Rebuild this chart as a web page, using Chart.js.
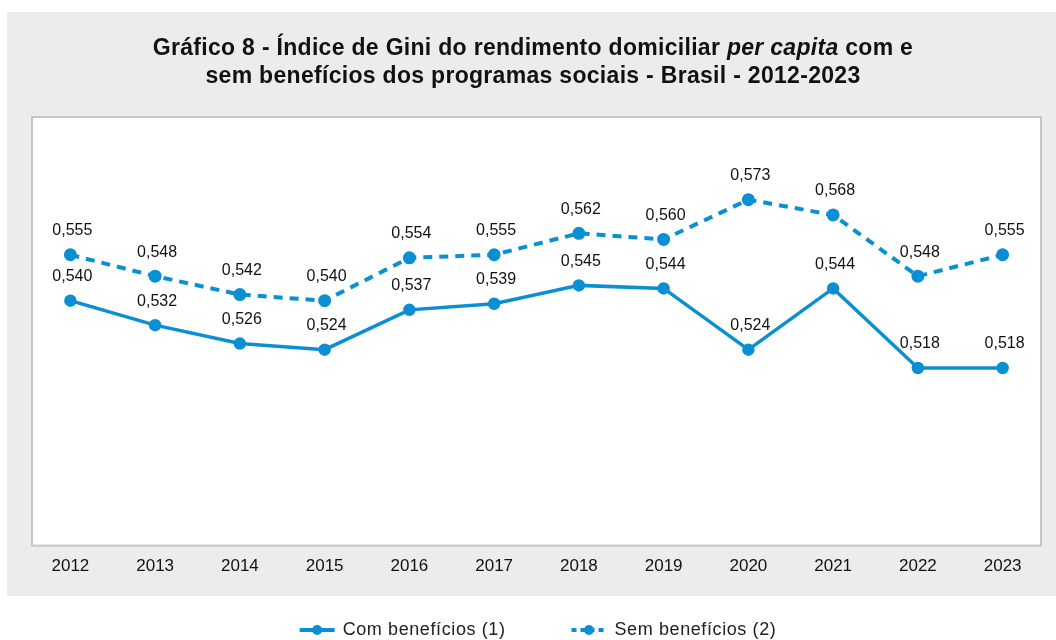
<!DOCTYPE html>
<html>
<head>
<meta charset="utf-8">
<script src="https://cdn.jsdelivr.net/npm/chart.js@4.4.1/dist/chart.umd.min.js"></script>
<style>
  html, body { margin: 0; padding: 0; background: #fff; }
  #wrap { width: 1056px; height: 640px; position: relative; }
</style>
</head>
<body>
<div id="wrap"><canvas id="chart1" width="1056" height="640"></canvas></div>
<script>
var years = ['2012', '2013', '2014', '2015', '2016', '2017', '2018', '2019', '2020', '2021', '2022', '2023'];
var comBeneficios = [0.540, 0.532, 0.526, 0.524, 0.537, 0.539, 0.545, 0.544, 0.524, 0.544, 0.518, 0.518];
var semBeneficios = [0.555, 0.548, 0.542, 0.540, 0.554, 0.555, 0.562, 0.560, 0.573, 0.568, 0.548, 0.555];
var seriesNames = ['Com benefícios (1)', 'Sem benefícios (2)'];
var titleLines = [
    [['Gráfico 8 - Índice de Gini do rendimento domiciliar ', 'bold'], ['per capita', 'italic bold'], [' com e', 'bold']],
    [['sem benefícios dos programas sociais - Brasil - 2012-2023', 'bold']]
];

var blue = '#0a8fd3';
var fontFamily = '"Liberation Sans", Arial, Helvetica, sans-serif';

var panelPlugin = {
    id: 'panel',
    beforeDraw: function (chart) {
        var ctx = chart.ctx;
        var a = chart.chartArea;
        ctx.save();
        ctx.fillStyle = '#ececec';
        ctx.fillRect(7, 12, 1049, 584);
        ctx.fillStyle = '#ffffff';
        ctx.fillRect(a.left + 4, a.top, a.right - a.left - 8, a.bottom - a.top);
        ctx.strokeStyle = '#c6c6c6';
        ctx.lineWidth = 2;
        ctx.strokeRect(a.left + 4, a.top, a.right - a.left - 8, a.bottom - a.top);
        ctx.restore();
    }
};

var titlePlugin = {
    id: 'mixedTitle',
    afterDraw: function (chart) {
        var ctx = chart.ctx;
        ctx.save();
        ctx.fillStyle = '#111';
        ctx.textBaseline = 'middle';
        ctx.letterSpacing = '0.3px';
        var ys = [49, 77];
        titleLines.forEach(function (parts, i) {
            var total = 0;
            parts.forEach(function (p) {
                ctx.font = p[1] + ' 23px ' + fontFamily;
                total += ctx.measureText(p[0]).width;
            });
            var x = 533 - total / 2;
            parts.forEach(function (p) {
                ctx.font = p[1] + ' 23px ' + fontFamily;
                ctx.fillText(p[0], x, ys[i]);
                x += ctx.measureText(p[0]).width;
            });
        });
        ctx.restore();
    }
};

var valueLabels = {
    id: 'valueLabels',
    afterDatasetsDraw: function (chart) {
        var ctx = chart.ctx;
        ctx.save();
        ctx.font = '16px ' + fontFamily;
        ctx.fillStyle = '#111';
        ctx.textAlign = 'center';
        ctx.textBaseline = 'middle';
        chart.data.datasets.forEach(function (ds, i) {
            chart.getDatasetMeta(i).data.forEach(function (pt, j) {
                ctx.fillText(ds.data[j].toFixed(3).replace('.', ','), pt.x + 2, pt.y - 24);
            });
        });
        ctx.restore();
    }
};

// legend below the grey panel: line + dot icon, then the series name
var lineLegend = {
    id: 'lineLegend',
    afterDraw: function (chart) {
        var ctx = chart.ctx;
        var y = 630;
        var iconW = 35, textGap = 8, itemGap = 66;
        ctx.save();
        ctx.font = '18px ' + fontFamily;
        ctx.letterSpacing = '0.6px';
        var widths = chart.data.datasets.map(function (ds) { return ctx.measureText(ds.label).width; });
        var total = iconW * 2 + textGap * 2 + widths[0] + widths[1] + itemGap;
        var x = 538 - total / 2;
        chart.data.datasets.forEach(function (ds, i) {
            ctx.strokeStyle = ds.borderColor;
            ctx.fillStyle = ds.borderColor;
            ctx.lineWidth = 4;
            ctx.setLineDash(ds.borderDash ? [5, 4] : []);
            ctx.beginPath();
            ctx.moveTo(x, y);
            ctx.lineTo(x + iconW, y);
            ctx.stroke();
            ctx.setLineDash([]);
            ctx.beginPath();
            ctx.arc(x + iconW / 2, y, 5, 0, Math.PI * 2);
            ctx.fill();
            x += iconW + textGap;
            ctx.fillStyle = '#222';
            ctx.textBaseline = 'middle';
            ctx.fillText(ds.label, x, y);
            x += widths[i] + itemGap;
        });
        ctx.restore();
    }
};

var chart1 = new Chart(document.getElementById('chart1'), {
    type: 'line',
    data: {
        labels: years,
        datasets: [
            {
                label: seriesNames[0],
                data: comBeneficios,
                borderColor: blue,
                backgroundColor: blue,
                borderWidth: 3.5,
                pointRadius: 4.5,
                pointHoverRadius: 4.5,
                tension: 0
            },
            {
                label: seriesNames[1],
                data: semBeneficios,
                borderColor: blue,
                backgroundColor: blue,
                borderWidth: 4,
                borderDash: [9, 7],
                pointRadius: 4.5,
                pointHoverRadius: 4.5,
                tension: 0
            }
        ]
    },
    options: {
        responsive: false,
        animation: false,
        layout: { padding: { left: 28, right: 11, top: 117, bottom: 52 } },
        scales: {
            x: {
                offset: true,
                grid: { display: false, drawTicks: false },
                border: { display: false },
                ticks: { color: '#111', padding: 11, font: { size: 17, family: fontFamily } }
            },
            y: {
                display: false,
                min: 0.46,
                max: 0.60
            }
        },
        plugins: {
            tooltip: { enabled: false },
            legend: { display: false }
        }
    },
    plugins: [panelPlugin, titlePlugin, valueLabels, lineLegend]
});
</script>
</body>
</html>
